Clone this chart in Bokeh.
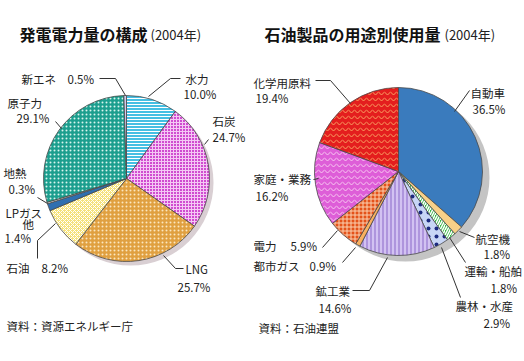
import numpy as np
from bokeh.plotting import figure
from bokeh.models import Range1d, ColumnDataSource
from bokeh.core.properties import value
from bokeh.embed import file_html
from bokeh.resources import INLINE

# ---- data ----
power_title = "発電電力量の構成"
oil_title = "石油製品の用途別使用量"
year_note = "(2004年)"
power_labels = ["水力", "石炭", "LNG", "石油", "LPガス\n他", "地熱", "原子力", "新エネ"]
power_values = [10.0, 24.7, 25.7, 8.2, 1.4, 0.3, 29.1, 0.5]
oil_labels = ["自動車", "航空機", "運輸・船舶", "農林・水産", "鉱工業", "都市ガス", "電力", "家庭・業務", "化学用原料"]
oil_values = [36.5, 1.8, 1.8, 2.9, 14.6, 0.9, 5.9, 16.2, 19.4]
power_source = "資料：資源エネルギー庁"
oil_source = "資料：石油連盟"

FONT = value("Noto Sans CJK JP")
W, H = 524, 361


def Y(y):
    return H - y


p = figure(width=W, height=H, x_range=Range1d(0, W), y_range=Range1d(0, H),
           output_backend="svg", toolbar_location=None, min_border=0,
           x_axis_location=None, y_axis_location=None)
p.grid.visible = False
p.outline_line_color = None
p.background_fill_color = "white"


def pie(cx, cy, r, vals, fills, hatches, hcolors, hscales, hweights,
        shadow_dx, shadow_dy, shadow_color):
    v = np.array(vals, dtype=float)
    fr = v / v.sum()
    cum = np.concatenate([[0.0], np.cumsum(fr)])
    start = np.pi / 2 - 2 * np.pi * cum[1:]
    end = np.pi / 2 - 2 * np.pi * cum[:-1]
    p.circle(x=[cx + shadow_dx], y=[Y(cy + shadow_dy)], radius=r, radius_units="screen",
             fill_color=shadow_color, line_color=None)
    src = ColumnDataSource(dict(start=start, end=end, fill=fills, hp=hatches,
                                hc=hcolors, hs=hscales, hw=hweights))
    p.wedge(x=cx, y=Y(cy), radius=r, radius_units="screen", start_angle="start",
            end_angle="end", direction="anticlock", fill_color="fill",
            hatch_pattern="hp", hatch_color="hc", hatch_scale="hs", hatch_weight="hw",
            line_color="#4a4a4a", line_width=0.8, source=src)


# left pie
pie(126, 178, 83, power_values,
    ["#45bfe3", "#d04cd0", "#e0a040", "#f5e27a", "#2f6fb0", "#e8e8e8", "#1c9e8e", "#cfc8ea"],
    ["horizontal_line", "cross", "dot", "diagonal_cross", " ", " ", "dot", " "],
    ["white", "#f4c8f4", "#fbe6c0", "white", "white", "white", "#d8f4ee", "white"],
    [3, 3, 4, 4, 4, 4, 4, 4],
    [1, 1, 1, 1, 1, 1, 1, 1],
    4, 4, "#d9cfd3")

# right pie
pie(398, 171, 84, oil_values,
    ["#3a7bbd", "#f8d088", "#3cb84a", "#c8d6f6", "#d2c2f2", "#f8b060", "#e4521a", "#de5ed8", "#e41e1e"],
    [" ", " ", "right_diagonal_line", "dot", "vertical_line", " ", "cross", "horizontal_wave", "horizontal_wave"],
    ["white", "white", "white", "#1c2a80", "#8a68c8", "white", "#fbd0b0", "#f6c8f0", "#f8a060"],
    [4, 4, 5, 8, 4, 4, 4, 6, 6],
    [1, 1, 1.5, 0.6, 1, 1, 1, 1, 1],
    7, 6, "#c4c4c4")

# ---- labels (layout positions in picture pixels) ----
power_layout = [
    # name_xy, value_xy, leader
    ((185, 78), (183, 93), [(180, 78), (170, 78), (148, 96)]),
    ((212, 120), (212, 136), [(208, 139), (204, 144)]),
    ((185, 268), (177, 286), [(183, 268), (175, 268), (163, 255)]),
    ((6, 267), (41, 267), [(37, 258), (37, 240), (55, 223)]),
    ((5, 212), (4, 237), None),
    ((3, 172), (8, 188), [(37, 197), (47, 203)]),
    ((7, 102), (16, 117), [(55, 121), (61, 128)]),
    ((21, 78), (67, 78), [(99, 78), (115, 78), (125, 95)]),
]
oil_layout = [
    ((470, 92), (472, 108), [(469, 90), (454, 111)]),
    ((475, 238), (483, 253), [(474, 237), (459, 231)]),
    ((464, 270), (490, 287), [(465, 262), (449, 237)]),
    ((455, 305), (483, 322), [(460, 297), (441, 247)]),
    ((315, 290), (318, 307), [(352, 290), (369, 290), (387, 257)]),
    ((253, 265), (309, 265), [(342, 262), (355, 247)]),
    ((253, 245), (290, 245), [(322, 247), (337, 230)]),
    ((253, 178), (255, 195), [(313, 179), (318, 178)]),
    ((253, 82), (255, 97), [(315, 80), (330, 80), (350, 103)]),
]

tx, ty, tt = [], [], []
lxs, lys = [], []
for labels, vals, layout in ((power_labels, power_values, power_layout),
                             (oil_labels, oil_values, oil_layout)):
    for name, v, (nxy, vxy, lead) in zip(labels, vals, layout):
        lines = name.split("\n")
        for i, ln in enumerate(lines):
            ox = 0 if i == 0 else 17
            tx.append(nxy[0] + ox)
            ty.append(Y(nxy[1] + 11 * i))
            tt.append(ln)
        tx.append(vxy[0])
        ty.append(Y(vxy[1]))
        tt.append(f"{v:.1f}%")
        if lead:
            lxs.append([a for a, b in lead])
            lys.append([Y(b) for a, b in lead])

p.multi_line(xs=lxs, ys=lys, line_color="#333333", line_width=1)
p.text(x=tx, y=ty, text=tt, text_font=FONT, text_font_size="11.5px",
       text_baseline="middle", text_align="left", text_color="#222222")

# titles
p.text(x=[19, 264], y=[Y(33), Y(33)], text=[power_title, oil_title], text_font=FONT,
       text_font_size="16px", text_font_style="bold", text_baseline="middle", text_color="#111111")
p.text(x=[150, 444], y=[Y(34), Y(34)], text=[year_note, year_note], text_font=FONT,
       text_font_size="13px", text_baseline="middle", text_color="#222222")
# sources
p.text(x=[6, 258], y=[Y(325), Y(327)], text=[power_source, oil_source], text_font=FONT,
       text_font_size="11.5px", text_baseline="middle", text_color="#222222")

open("out.html", "w").write(file_html(p, INLINE))
